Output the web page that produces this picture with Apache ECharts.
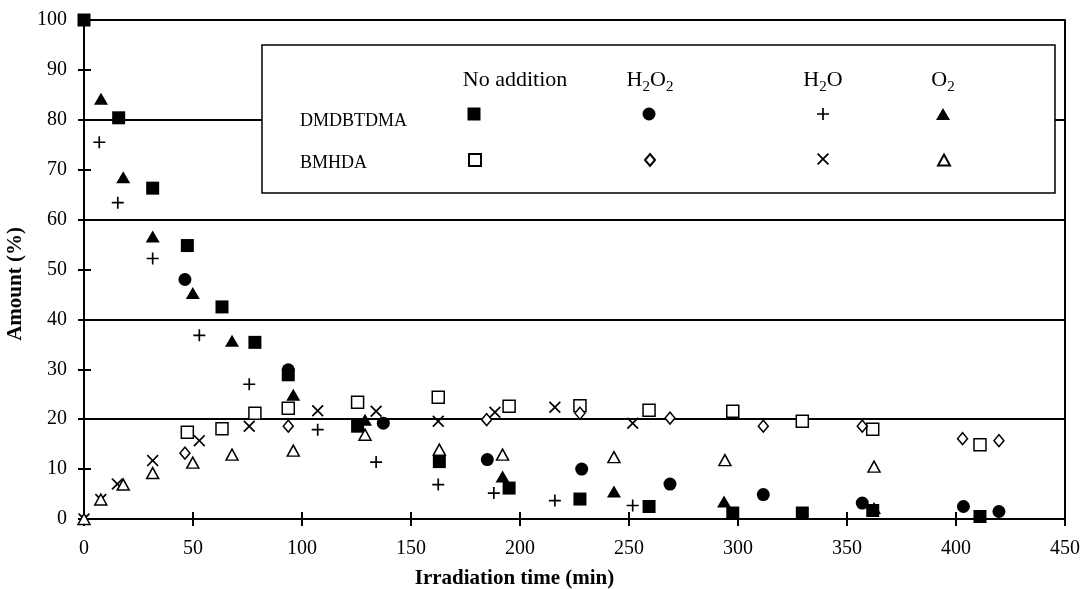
<!DOCTYPE html>
<html>
<head>
<meta charset="utf-8">
<script src="https://cdn.jsdelivr.net/npm/echarts@6/dist/echarts.min.js"></script>
<style>
  html, body { margin: 0; padding: 0; background: #fff; }
  #chart { width: 1082px; height: 589px; }
</style>
</head>
<body>
<div id="chart"></div>
<script>
// readings: [irradiation time (min), amount (%)]
const dmNoAddition = [[0,100],[15.9,80.4],[31.5,66.3],[47.4,54.8],[63.3,42.5],[78.4,35.4],[93.7,28.9],[125.5,18.6],[163,11.5],[195,6.2],[227.5,4.0],[259.2,2.5],[297.6,1.2],[329.5,1.2],[361.8,1.7],[411,0.5]]
const dmH2O2 = [[46.3,48.0],[93.7,29.9],[137.3,19.2],[185,11.9],[228.3,10.0],[268.8,7.0],[311.6,4.9],[357,3.2],[403.4,2.5],[419.7,1.5]]
const dmH2O = [[7,75.5],[15.5,63.4],[31.5,52.2],[52.9,36.8],[75.8,27.0],[107.2,17.9],[134,11.4],[162.5,6.9],[188,5.2],[216,3.7],[251.7,2.7]]
const dmO2 = [[7.8,84.2],[18,68.5],[31.5,56.6],[49.9,45.3],[67.9,35.7],[96,24.9],[128.9,19.9],[192,8.5],[243.1,5.5],[293.6,3.5],[362.4,2.2]]
const bmNoAddition = [[47.4,17.4],[63.3,18.1],[78.4,21.2],[93.7,22.2],[125.5,23.4],[162.5,24.4],[195,22.6],[227.5,22.7],[259.2,21.8],[297.6,21.6],[329.5,19.6],[361.8,18.0],[411,14.9]]
const bmH2O2 = [[46.3,13.2],[93.7,18.6],[184.7,19.9],[227.5,21.2],[268.8,20.2],[311.6,18.6],[357,18.6],[403,16.1],[419.7,15.7]]
const bmH2O = [[0,0],[7.7,3.9],[15.3,7.0],[31.5,11.7],[52.9,15.7],[75.8,18.6],[107.2,21.7],[134,21.6],[162.5,19.6],[188.5,21.4],[216,22.4],[251.7,19.2]]
const bmO2 = [[0,0],[7.7,3.9],[18,6.9],[31.5,9.2],[49.9,11.3],[67.9,12.9],[96,13.7],[128.9,16.9],[163,13.9],[192,12.9],[243.1,12.4],[294,11.8],[362.4,10.5]]

const compounds = ['DMDBTDMA', 'BMHDA']
const conditions = ['No addition', 'H2O2', 'H2O', 'O2']

const FONT = "'Liberation Serif', 'DejaVu Serif', serif"
const PLUS = 'path://M4.3,0H5.7V4.3H10V5.7H5.7V10H4.3V5.7H0V4.3H4.3Z'
const CROSS = 'path://M0,1L1,0L5,4L9,0L10,1L6,5L10,9L9,10L5,6L1,10L0,9L4,5Z'

const filled = { color: '#000', opacity: 1 }
const open = { color: '#fff', borderColor: '#000', borderWidth: 1.5, opacity: 1 }

// [compound, condition, data, symbol, size, style]
const seriesDefs = [
  [0, 0, dmNoAddition, 'rect', 13, filled],
  [0, 1, dmH2O2, 'circle', 13, filled],
  [0, 2, dmH2O, PLUS, 12, filled],
  [0, 3, dmO2, 'triangle', [14, 12], filled],
  [1, 0, bmNoAddition, 'rect', 12, open],
  [1, 1, bmH2O2, 'diamond', [10, 12], open],
  [1, 2, bmH2O, CROSS, 12, filled],
  [1, 3, bmO2, 'triangle', [12, 11], open],
]

const legendX = [474, 649, 823, 943]
const legendY = [114, 159]

const series = seriesDefs.map(([c, k, data, symbol, size, style]) => ({
  name: compounds[c] + ' / ' + conditions[k],
  type: 'scatter',
  data,
  symbol,
  symbolSize: size,
  itemStyle: style,
  emphasis: { disabled: true },
  z: c === 1 ? 2 : 3,
}))

const legends = seriesDefs.map(([c, k, , , size]) => {
  const w = Array.isArray(size) ? size[0] : size
  const h = Array.isArray(size) ? size[1] : size
  return {
    data: [compounds[c] + ' / ' + conditions[k]],
    left: legendX[k] - w / 2,
    top: legendY[c] - h / 2,
    padding: 0,
    itemWidth: w,
    itemHeight: h,
    itemGap: 0,
    selectedMode: false,
    formatter: () => '',
    textStyle: { fontSize: 1 },
    z: 6,
  }
})

const axisLine = { lineStyle: { color: '#000', width: 2 } }
const labelStyle = { color: '#000', fontFamily: FONT, fontSize: 20 }
const nameStyle = { color: '#000', fontFamily: FONT, fontSize: 21, fontWeight: 'bold' }

const header = (text, x) => ({
  type: 'text', x, y: 80, z: 5,
  style: {
    text, fontFamily: FONT, fontSize: 22, fill: '#000',
    align: 'center', verticalAlign: 'middle',
    rich: {
      s: { fontFamily: FONT, fontSize: 15, fill: '#000', padding: [14, 0, 0, 0] },
    },
  },
})

const chart = echarts.init(document.getElementById('chart'), null, { renderer: 'canvas' })
chart.setOption({
  animation: false,
  backgroundColor: '#fff',
  grid: { left: 84, right: 17, top: 20, bottom: 70, outerBoundsMode: 'none' },
  xAxis: [
    {
      type: 'value', min: 0, max: 450, interval: 50,
      name: 'Irradiation time (min)', nameLocation: 'middle', nameGap: 49,
      nameTextStyle: Object.assign({ padding: [0, 120, 0, 0] }, nameStyle),
      axisLine, axisTick: { length: 7, lineStyle: { color: '#000', width: 2 } },
      axisLabel: Object.assign({ margin: 20 }, labelStyle),
      splitLine: { show: false },
    },
    {
      type: 'value', min: 0, max: 450, interval: 50, position: 'bottom',
      axisLine: { show: false }, axisLabel: { show: false },
      axisTick: { inside: true, length: 7, lineStyle: { color: '#000', width: 2 } },
      splitLine: { show: false },
    },
  ],
  yAxis: [
    {
      type: 'value', min: 0, max: 100, interval: 10,
      name: 'Amount (%)', nameLocation: 'middle', nameGap: 50,
      nameTextStyle: Object.assign({ padding: [0, 29, 0, 0] }, nameStyle),
      axisLine, axisTick: { length: 6, lineStyle: { color: '#000', width: 2 } },
      axisLabel: Object.assign({ margin: 17 }, labelStyle),
      splitLine: { show: false },
    },
    {
      type: 'value', min: 0, max: 100, interval: 10, position: 'left',
      axisLine: { show: false }, axisLabel: { show: false },
      axisTick: { inside: true, length: 7, lineStyle: { color: '#000', width: 2 } },
      splitLine: { show: false },
    },
    {
      type: 'value', min: 0, max: 100, interval: 20, position: 'right',
      axisLine, axisLabel: { show: false }, axisTick: { show: false },
      splitLine: { lineStyle: { color: '#000', width: 2 } },
    },
  ],
  legend: legends,
  graphic: [
    {
      type: 'rect', z: 4,
      shape: { x: 262, y: 45, width: 793, height: 148 },
      style: { fill: '#fff', stroke: '#000', lineWidth: 1.5 },
    },
    header('No addition', 515),
    header('H{s|2}O{s|2}', 650),
    header('H{s|2}O', 823),
    header('O{s|2}', 943),
    {
      type: 'text', x: 300, y: 121, z: 5,
      style: { text: compounds[0], fontFamily: FONT, fontSize: 18, fill: '#000', verticalAlign: 'middle' },
    },
    {
      type: 'text', x: 300, y: 163, z: 5,
      style: { text: compounds[1], fontFamily: FONT, fontSize: 18, fill: '#000', verticalAlign: 'middle' },
    },
  ],
  series,
})
</script>
</body>
</html>
